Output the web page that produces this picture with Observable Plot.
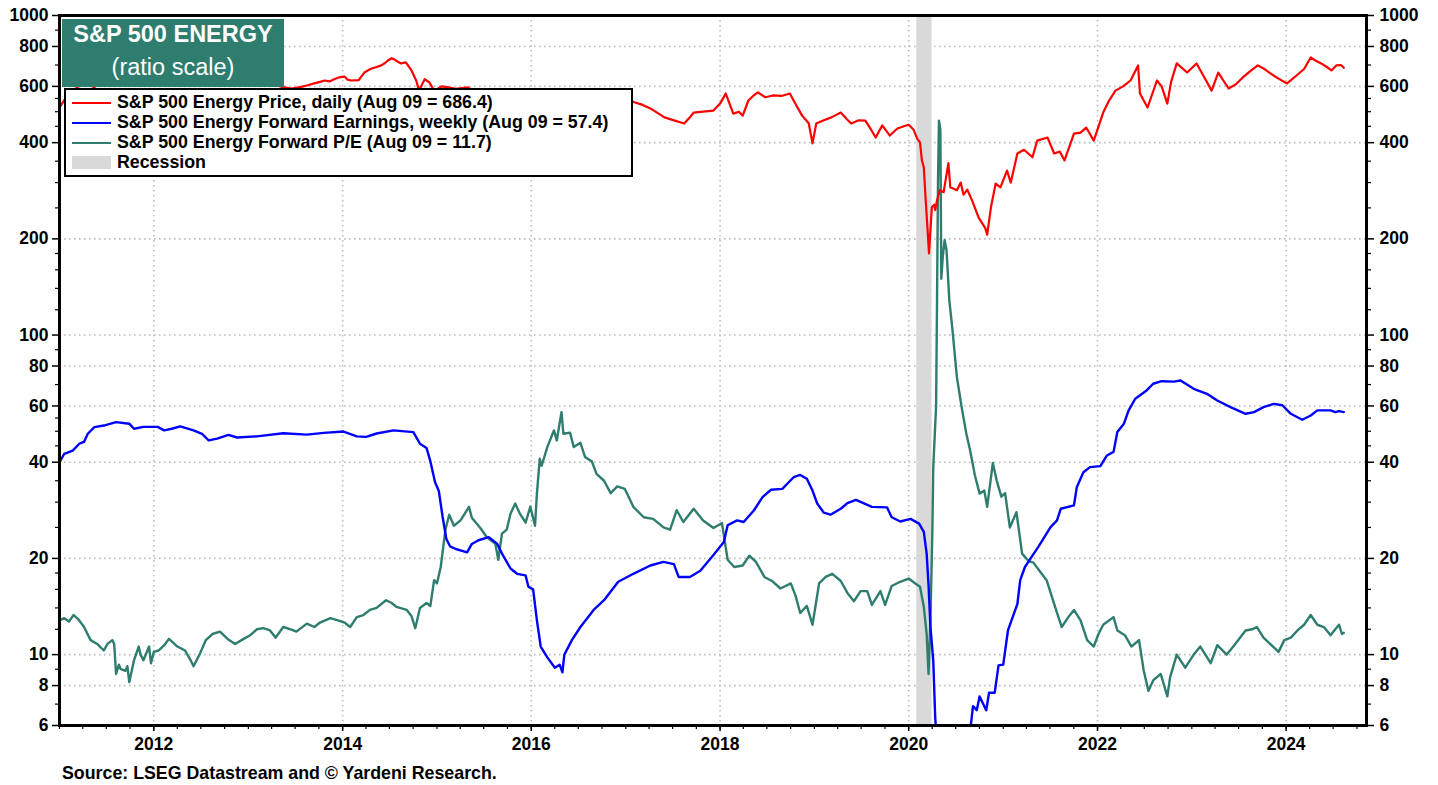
<!DOCTYPE html>
<html>
<head>
<meta charset="utf-8">
<script src="https://cdn.jsdelivr.net/npm/d3@7"></script>
<script src="https://cdn.jsdelivr.net/npm/@observablehq/plot@0.6"></script>
<style>
  html, body { margin: 0; padding: 0; background: #fff; }
  body { width: 1438px; height: 785px; position: relative; overflow: hidden; font-family: "Liberation Sans", Arial, sans-serif; }
  #chart { position: absolute; left: 0; top: 0; }
  #titlebox { position: absolute; left: 62px; top: 19px; width: 222px; height: 68px; background: #2E7D6E; color: #fff; text-align: center; }
  #titlebox .t1 { position: absolute; left: 0; right: 0; top: 2px; font-size: 23.5px; font-weight: bold; }
  #titlebox .t2 { position: absolute; left: 0; right: 0; top: 35px; font-size: 23.5px; }
  #legend { position: absolute; left: 64px; top: 88px; width: 565px; height: 85px; border: 2px solid #000; background: #fff; }
  .row { position: absolute; left: 0; height: 20px; width: 100%; }
  .row .sw { position: absolute; left: 6px; top: 10px; width: 39px; height: 2px; }
  .row .sw.rect { top: 4px; height: 13px; }
  .row .lb { position: absolute; left: 51px; top: 0px; font-size: 17.8px; line-height: 20px; font-weight: bold; color: #000; white-space: nowrap; }
  #source { position: absolute; left: 62px; top: 763px; font-size: 17.8px; line-height: 20px; font-weight: bold; color: #000; white-space: nowrap; }
</style>
</head>
<body>
<div id="chart"></div>
<div id="titlebox"><div class="t1">S&amp;P 500 ENERGY</div><div class="t2">(ratio scale)</div></div>
<div id="legend"></div>
<div id="source">Source: LSEG Datastream and © Yardeni Research.</div>
<script>
// ---------- data (decimal year, value) ----------
const price = [
  [2011.00,515],[2011.08,560],[2011.20,600],[2011.30,615],[2011.45,570],[2011.60,540],[2011.72,450],[2011.80,470],[2011.95,520],
  [2012.10,560],[2012.25,545],[2012.40,480],[2012.50,500],[2012.70,540],[2012.88,520],[2013.05,565],[2013.20,570],[2013.30,585],
  [2013.38,596],[2013.46,591],[2013.56,598],[2013.63,605],[2013.70,613],[2013.76,620],[2013.81,626],[2013.86,622],[2013.91,632],
  [2013.96,640],[2014.02,644],[2014.05,630],[2014.09,626],[2014.17,628],[2014.23,663],[2014.30,681],[2014.36,690],[2014.41,698],
  [2014.45,710],[2014.48,723],[2014.52,735],[2014.55,728],[2014.59,715],[2014.62,708],[2014.67,713],[2014.73,673],[2014.78,626],
  [2014.81,582],[2014.87,632],[2014.92,617],[2014.97,582],[2015.05,600],[2015.12,596],[2015.20,590],[2015.33,596],[2015.45,560],
  [2015.55,510],[2015.65,450],[2015.75,490],[2015.85,470],[2015.95,430],[2016.05,400],[2016.15,420],[2016.30,470],[2016.45,490],
  [2016.60,470],[2016.75,480],[2016.90,540],[2017.00,550],[2017.09,535],[2017.18,525],[2017.26,512],[2017.34,495],[2017.41,480],
  [2017.52,469],[2017.62,459],[2017.68,480],[2017.72,497],[2017.82,500],[2017.93,504],[2018.00,530],[2018.06,570],[2018.10,530],
  [2018.14,493],[2018.20,500],[2018.24,486],[2018.30,542],[2018.35,560],[2018.40,575],[2018.48,555],[2018.56,562],[2018.65,560],
  [2018.74,570],[2018.79,535],[2018.87,486],[2018.94,460],[2018.98,398],[2019.02,459],[2019.10,470],[2019.18,480],[2019.28,497],
  [2019.34,475],[2019.39,459],[2019.47,470],[2019.54,469],[2019.60,440],[2019.65,415],[2019.72,453],[2019.80,421],[2019.88,443],
  [2019.95,450],[2020.00,455],[2020.05,440],[2020.09,412],[2020.12,400],[2020.14,352],[2020.16,335],[2020.18,264],[2020.20,213],
  [2020.215,180],[2020.23,213],[2020.245,251],[2020.27,256],[2020.28,246],[2020.30,264],[2020.33,284],[2020.37,280],[2020.42,345],
  [2020.44,290],[2020.51,284],[2020.55,300],[2020.58,275],[2020.62,285],[2020.67,264],[2020.74,233],[2020.81,216],[2020.83,206],
  [2020.87,251],[2020.92,298],[2020.97,290],[2021.04,327],[2021.08,300],[2021.15,370],[2021.22,380],[2021.31,360],[2021.36,406],
  [2021.47,415],[2021.54,370],[2021.60,375],[2021.65,352],[2021.75,427],[2021.82,430],[2021.88,446],[2021.96,406],[2022.06,497],
  [2022.12,540],[2022.19,582],[2022.27,600],[2022.35,626],[2022.43,698],[2022.45,570],[2022.53,515],[2022.63,626],[2022.68,600],
  [2022.74,530],[2022.78,620],[2022.84,708],[2022.95,663],[2023.05,708],[2023.12,650],[2023.21,582],[2023.28,663],[2023.39,591],
  [2023.47,610],[2023.54,640],[2023.62,670],[2023.70,698],[2023.77,680],[2023.83,660],[2023.91,637],[2024.01,613],[2024.11,649],
  [2024.19,680],[2024.26,739],[2024.32,720],[2024.37,708],[2024.43,690],[2024.48,673],[2024.53,698],[2024.58,700],[2024.61,686]
];
const earnings = [
  [2011.00,40.0],[2011.05,42.5],[2011.14,43.5],[2011.21,45.7],[2011.26,46.3],[2011.30,49.1],[2011.37,51.5],[2011.47,52.1],
  [2011.60,53.4],[2011.74,52.8],[2011.79,50.9],[2011.89,51.6],[2012.04,51.6],[2012.11,50.3],[2012.20,51.0],[2012.28,51.8],
  [2012.42,50.3],[2012.51,49.1],[2012.58,46.8],[2012.67,47.4],[2012.79,48.7],[2012.88,47.8],[2013.09,48.2],[2013.37,49.3],
  [2013.62,48.8],[2013.80,49.4],[2014.01,49.9],[2014.15,48.2],[2014.25,48.0],[2014.36,49.2],[2014.54,50.3],[2014.75,49.7],
  [2014.82,45.7],[2014.89,44.3],[2014.93,40.3],[2014.98,34.6],[2015.02,32.5],[2015.06,27.0],[2015.10,23.0],[2015.14,21.8],
  [2015.20,21.4],[2015.32,20.9],[2015.37,22.2],[2015.44,22.8],[2015.55,23.3],[2015.64,22.2],[2015.69,20.7],[2015.78,18.6],
  [2015.85,17.9],[2015.94,17.7],[2015.97,16.3],[2016.02,16.0],[2016.06,12.8],[2016.10,10.6],[2016.17,9.8],[2016.25,9.1],
  [2016.30,9.3],[2016.33,8.8],[2016.35,10.0],[2016.43,11.1],[2016.52,12.2],[2016.66,13.8],[2016.77,14.8],[2016.92,16.9],
  [2017.08,17.9],[2017.26,19.0],[2017.40,19.5],[2017.51,19.2],[2017.56,17.5],[2017.68,17.5],[2017.79,18.3],[2017.93,20.5],
  [2018.04,22.5],[2018.08,25.4],[2018.18,26.3],[2018.25,26.0],[2018.36,28.3],[2018.45,31.1],[2018.54,32.8],[2018.66,33.0],
  [2018.71,34.2],[2018.78,35.9],[2018.85,36.5],[2018.92,35.5],[2018.98,32.6],[2019.03,29.7],[2019.10,27.8],[2019.17,27.4],
  [2019.28,28.6],[2019.35,29.8],[2019.44,30.5],[2019.52,29.8],[2019.61,29.0],[2019.77,28.9],[2019.82,26.9],[2019.91,26.1],
  [2020.02,26.6],[2020.11,25.7],[2020.16,24.2],[2020.19,20.7],[2020.21,16.5],[2020.23,12.2],[2020.26,9.6],[2020.28,6.4],
  [2020.30,5.2],[2020.40,3.5],[2020.55,3.8],[2020.64,5.5],[2020.66,6.1],[2020.68,6.9],[2020.72,6.7],[2020.75,7.4],[2020.82,6.7],
  [2020.85,7.6],[2020.91,7.6],[2020.95,9.25],[2021.00,9.3],[2021.05,11.9],[2021.10,13.1],[2021.15,14.4],[2021.18,17.1],
  [2021.23,18.8],[2021.28,19.8],[2021.37,21.7],[2021.42,22.9],[2021.50,25.0],[2021.57,26.3],[2021.61,28.6],[2021.75,29.3],
  [2021.78,33.4],[2021.85,37.2],[2021.92,38.6],[2022.03,38.9],[2022.10,42.0],[2022.17,43.1],[2022.21,49.7],[2022.28,52.8],
  [2022.33,58.1],[2022.40,63.2],[2022.52,67.1],[2022.59,70.4],[2022.68,71.7],[2022.81,71.5],[2022.88,72.1],[2023.02,67.9],
  [2023.16,65.5],[2023.27,62.4],[2023.41,59.5],[2023.57,56.7],[2023.66,57.4],[2023.76,59.5],[2023.87,60.9],[2023.96,60.3],
  [2024.05,56.7],[2024.17,54.3],[2024.26,56.0],[2024.33,58.1],[2024.47,58.1],[2024.52,57.4],[2024.56,57.8],[2024.61,57.4]
];
const pe = [
  [2011.00,12.8],[2011.05,13.0],[2011.10,12.7],[2011.15,13.3],[2011.20,12.9],[2011.26,12.2],[2011.33,11.1],[2011.40,10.8],
  [2011.47,10.3],[2011.51,10.8],[2011.56,11.1],[2011.58,10.8],[2011.60,8.7],[2011.63,9.3],[2011.65,9.0],[2011.70,8.9],
  [2011.72,9.2],[2011.74,8.2],[2011.79,9.6],[2011.84,10.6],[2011.86,10.0],[2011.89,9.6],[2011.95,10.6],[2011.97,9.4],
  [2012.00,10.2],[2012.05,10.3],[2012.11,10.7],[2012.16,11.2],[2012.25,10.6],[2012.33,10.3],[2012.39,9.6],[2012.42,9.2],
  [2012.46,9.7],[2012.49,10.1],[2012.55,11.1],[2012.62,11.6],[2012.70,11.8],[2012.78,11.2],[2012.86,10.8],[2012.95,11.2],
  [2013.02,11.5],[2013.09,12.0],[2013.16,12.1],[2013.23,11.9],[2013.29,11.3],[2013.37,12.2],[2013.45,12.0],[2013.51,11.8],
  [2013.62,12.5],[2013.70,12.2],[2013.76,12.6],[2013.87,13.0],[2013.95,12.8],[2014.02,12.6],[2014.08,12.2],[2014.15,13.1],
  [2014.22,13.3],[2014.29,13.8],[2014.36,14.0],[2014.46,14.8],[2014.52,14.5],[2014.57,14.1],[2014.68,13.8],[2014.73,13.2],
  [2014.77,12.1],[2014.82,14.0],[2014.89,14.5],[2014.93,14.2],[2014.97,17.1],[2015.00,16.7],[2015.04,18.8],[2015.09,24.6],
  [2015.13,27.4],[2015.18,25.3],[2015.25,26.3],[2015.34,29.0],[2015.37,26.8],[2015.46,24.9],[2015.53,23.3],[2015.62,22.2],
  [2015.65,19.8],[2015.69,23.9],[2015.74,24.6],[2015.78,27.6],[2015.83,29.7],[2015.88,27.6],[2015.94,25.9],[2015.99,29.0],
  [2016.04,25.3],[2016.06,31.9],[2016.09,41.0],[2016.11,39.0],[2016.17,44.6],[2016.24,50.3],[2016.27,46.8],[2016.32,57.4],
  [2016.34,49.1],[2016.41,49.5],[2016.45,44.6],[2016.52,46.0],[2016.57,41.5],[2016.64,40.3],[2016.69,36.8],[2016.77,35.0],
  [2016.84,32.0],[2016.91,33.6],[2016.99,33.0],[2017.08,29.0],[2017.19,26.9],[2017.29,26.6],[2017.40,25.0],[2017.47,24.6],
  [2017.54,28.3],[2017.61,26.0],[2017.72,28.6],[2017.82,26.3],[2017.93,24.9],[2018.02,25.8],[2018.08,19.8],[2018.15,18.8],
  [2018.24,19.0],[2018.31,20.4],[2018.38,19.5],[2018.47,17.5],[2018.55,17.0],[2018.64,16.1],[2018.75,16.7],[2018.80,15.3],
  [2018.85,13.5],[2018.92,14.2],[2018.98,12.4],[2019.05,16.7],[2019.12,17.5],[2019.19,17.9],[2019.28,17.0],[2019.35,15.6],
  [2019.42,14.7],[2019.49,15.8],[2019.56,15.8],[2019.61,14.3],[2019.70,15.8],[2019.75,14.3],[2019.82,16.4],[2019.91,16.9],
  [2020.00,17.3],[2020.07,16.7],[2020.12,16.3],[2020.16,14.1],[2020.19,11.6],[2020.21,8.7],[2020.23,12.8],[2020.25,23.9],
  [2020.26,38.6],[2020.29,60.0],[2020.30,130],[2020.31,300],[2020.32,469],[2020.335,440],[2020.345,150],[2020.36,175],
  [2020.38,198],[2020.40,185],[2020.43,128],[2020.46,106],[2020.51,73.8],[2020.56,59.5],[2020.61,49.1],[2020.65,43.5],
  [2020.70,36.4],[2020.75,31.9],[2020.80,32.6],[2020.83,29.0],[2020.89,39.8],[2020.93,35.1],[2020.98,31.2],[2021.02,32.0],
  [2021.07,25.0],[2021.14,27.9],[2021.20,20.7],[2021.27,19.6],[2021.32,19.4],[2021.39,18.2],[2021.46,17.1],[2021.55,14.1],
  [2021.62,12.2],[2021.69,13.1],[2021.75,13.8],[2021.82,12.8],[2021.89,11.1],[2021.96,10.6],[2022.01,11.6],[2022.06,12.4],
  [2022.17,13.1],[2022.21,11.9],[2022.29,11.5],[2022.36,10.6],[2022.44,11.1],[2022.49,8.9],[2022.54,7.7],[2022.59,8.3],
  [2022.67,8.7],[2022.74,7.4],[2022.77,8.5],[2022.84,10.0],[2022.93,9.1],[2023.02,10.0],[2023.09,10.6],[2023.20,9.4],
  [2023.27,10.7],[2023.37,10.0],[2023.44,10.6],[2023.57,11.9],[2023.64,12.0],[2023.69,12.2],[2023.76,11.3],[2023.83,10.8],
  [2023.92,10.2],[2023.98,11.1],[2024.05,11.3],[2024.12,11.9],[2024.19,12.4],[2024.26,13.3],[2024.33,12.4],[2024.40,12.2],
  [2024.47,11.5],[2024.52,12.0],[2024.56,12.4],[2024.59,11.6],[2024.61,11.7]
];
const recession = [[2020.085, 2020.247]];
const yMajorTicks = [6, 8, 10, 20, 40, 60, 80, 100, 200, 400, 600, 800, 1000];
const yGridTicks = [8, 10, 20, 40, 60, 80, 100, 200, 400, 600, 800];
const yMinorTicks = [7, 9, 12, 14, 16, 18, 25, 30, 35, 45, 50, 55, 70, 90, 120, 140, 160, 180, 250, 300, 350, 450, 500, 550, 700, 900];
const xLabelYears = [2012, 2014, 2016, 2018, 2020, 2022, 2024];
const xDomainYears = [2011.0, 2024.85];
const seriesNames = [
  "S&P 500 Energy Price, daily (Aug 09 = 686.4)",
  "S&P 500 Energy Forward Earnings, weekly (Aug 09 = 57.4)",
  "S&P 500 Energy Forward P/E (Aug 09 = 11.7)",
  "Recession"
];
const seriesColors = ["#FF0000", "#0000FF", "#2E7D6E", "#D9D9D9"];

// ---------- helpers ----------
function dy(y) {
  const yr = Math.floor(y);
  const s = Date.UTC(yr, 0, 1), e = Date.UTC(yr + 1, 0, 1);
  return new Date(s + (y - yr) * (e - s));
}
const toRows = arr => arr.map(([t, v]) => ({date: dy(t), value: v}));
const priceRows = toRows(price), earnRows = toRows(earnings), peRows = toRows(pe);
const recRows = recession.map(([a, b]) => ({x1: dy(a), x2: dy(b)}));
const xYearTicks = xLabelYears.map(y => dy(y));
const xQuarterTicks = [];
for (let y = 2011; y <= 2024; y++) for (let q = 0; q < 4; q++) {
  const d = new Date(Date.UTC(y, q * 3, 1));
  if (d >= dy(xDomainYears[0]) && d <= dy(xDomainYears[1])) xQuarterTicks.push(d);
}
const noLabel = () => "";

const font = {fontFamily: "'Liberation Sans', Arial, sans-serif", fontSize: "17.5px", fontWeight: "bold", color: "#000", background: "#fff", overflow: "visible"};

const chart = Plot.plot({
  width: 1438,
  height: 785,
  marginLeft: 59,
  marginRight: 72,
  marginTop: 15,
  marginBottom: 60,
  style: font,
  x: {type: "utc", domain: xDomainYears.map(dy)},
  y: {type: "log", domain: [6, 1000]},
  marks: [
    Plot.gridY({ticks: yGridTicks, stroke: "#bdbdbd", strokeOpacity: 1, strokeWidth: 1.6, strokeDasharray: "1.6,3.4"}),
    Plot.gridX({ticks: xYearTicks, stroke: "#bdbdbd", strokeOpacity: 1, strokeWidth: 1.6, strokeDasharray: "1.6,3.4"}),
    Plot.rect(recRows, {x1: "x1", x2: "x2", y1: 6, y2: 1000, fill: seriesColors[3]}),
    Plot.line(peRows, {x: "date", y: "value", stroke: seriesColors[2], strokeWidth: 2.4, clip: true}),
    Plot.line(earnRows, {x: "date", y: "value", stroke: seriesColors[1], strokeWidth: 2.4, clip: true}),
    Plot.line(priceRows, {x: "date", y: "value", stroke: seriesColors[0], strokeWidth: 2.2, clip: true}),
    // tick marks
    Plot.axisY({anchor: "left", ticks: yMajorTicks, tickFormat: noLabel, tickSize: 7, strokeWidth: 1.5, label: null}),
    Plot.axisY({anchor: "left", ticks: yMinorTicks, tickFormat: noLabel, tickSize: 4, strokeWidth: 1.2, label: null}),
    Plot.axisY({anchor: "right", ticks: yMajorTicks, tickFormat: noLabel, tickSize: 7, strokeWidth: 1.5, label: null}),
    Plot.axisY({anchor: "right", ticks: yMinorTicks, tickFormat: noLabel, tickSize: 4, strokeWidth: 1.2, label: null}),
    Plot.axisX({ticks: xYearTicks, tickFormat: noLabel, tickSize: 6, strokeWidth: 1.5, label: null}),
    Plot.axisX({ticks: xQuarterTicks, tickFormat: noLabel, tickSize: 4, strokeWidth: 1.2, label: null}),
    // tick labels
    Plot.text(yMajorTicks, {y: d => d, text: d => String(d), frameAnchor: "left", textAnchor: "end", dx: -11, fill: "#000"}),
    Plot.text(yMajorTicks, {y: d => d, text: d => String(d), frameAnchor: "right", textAnchor: "start", dx: 13, fill: "#000"}),
    Plot.text(xYearTicks, {x: d => d, text: d => String(d.getUTCFullYear()), frameAnchor: "bottom", lineAnchor: "top", dy: 12, fill: "#000"}),
    Plot.frame({stroke: "#000", strokeWidth: 3})
  ]
});
document.getElementById("chart").appendChild(chart);

// legend
const legend = document.getElementById("legend");
seriesNames.forEach((name, i) => {
  const row = document.createElement("div");
  row.className = "row";
  row.style.top = (2 + i * 20) + "px";
  const sw = document.createElement("div");
  sw.className = "sw" + (i === 3 ? " rect" : "");
  sw.style.background = seriesColors[i];
  const lb = document.createElement("div");
  lb.className = "lb";
  lb.textContent = name;
  row.appendChild(sw); row.appendChild(lb);
  legend.appendChild(row);
});
</script>
</body>
</html>
